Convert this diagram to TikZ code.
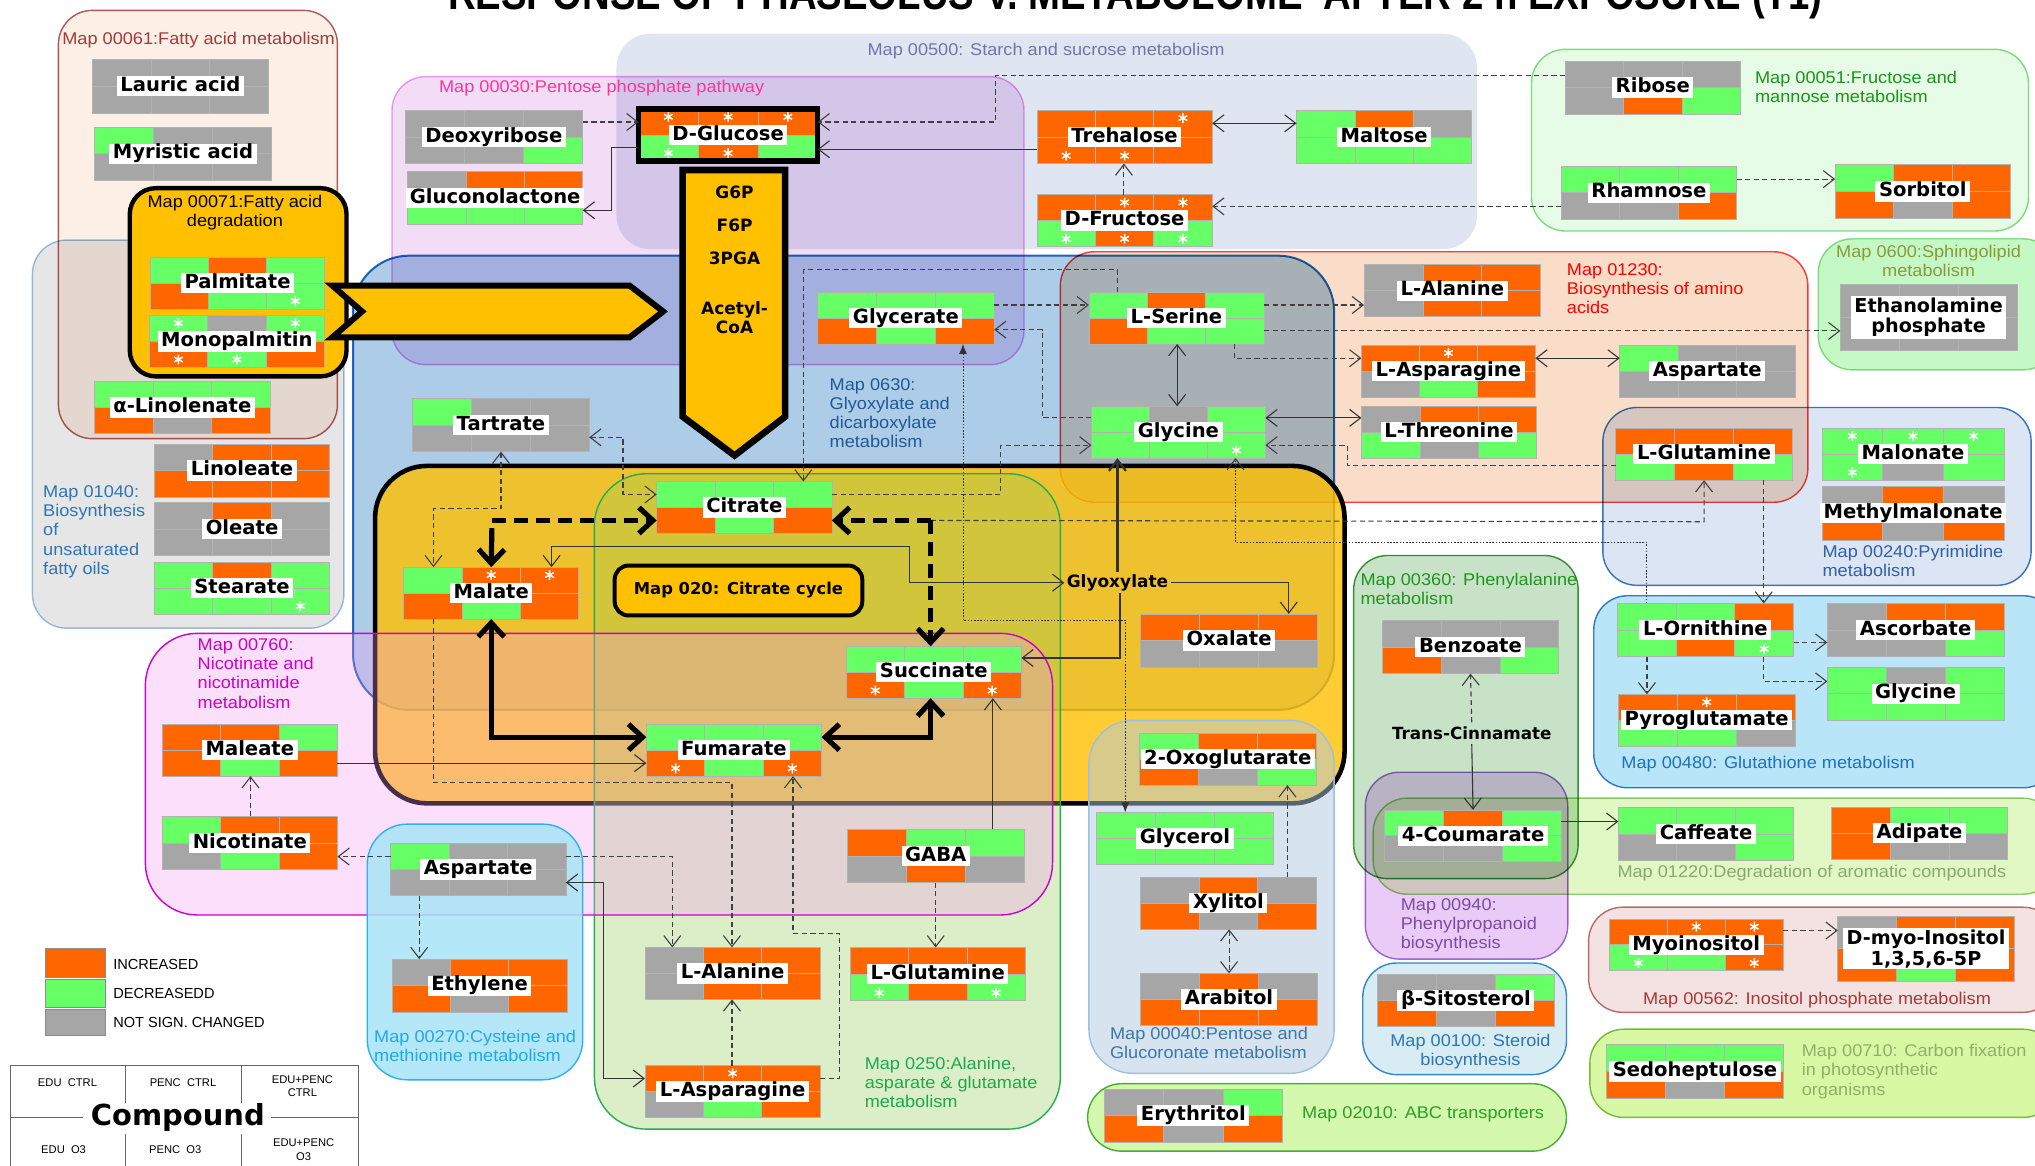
\documentclass[tikz,border=0pt]{standalone}
\usepackage{fontspec}
\setmainfont{Liberation Sans}
\newfontfamily\dvs{DejaVu Sans}
\usepackage{graphicx}
\usetikzlibrary{arrows.meta,calc}

% cell colours (upper case: plain, lower case: significant, drawn with an asterisk)
\definecolor{kO}{HTML}{FF6600}
\definecolor{kG}{HTML}{66FF66}
\definecolor{kA}{HTML}{A6A6A6}
\colorlet{ko}{kO}\colorlet{kg}{kG}\colorlet{ka}{kA}
\definecolor{gold}{HTML}{FFC000}

% pathway areas
\definecolor{fA}{HTML}{FCEFE6}\definecolor{dA}{HTML}{B55A5A}\definecolor{tA}{HTML}{A33A3A}
\definecolor{fB}{HTML}{E6E6E6}\definecolor{dB}{HTML}{9DC3E6}\definecolor{tB}{HTML}{2E75B6}
\definecolor{fC}{HTML}{DFE6F2}\definecolor{tC}{HTML}{7474A8}
\definecolor{fD}{HTML}{F2DCF6}\definecolor{dD}{HTML}{F0A0F0}\definecolor{tD}{HTML}{FF3399}
\definecolor{fE}{HTML}{DCE5F4}\definecolor{dE}{HTML}{3A7AC0}\definecolor{tE}{HTML}{3060A8}
\definecolor{fF}{HTML}{F9DDC8}\definecolor{dF}{HTML}{FF4040}\definecolor{tF}{HTML}{FF0000}
\definecolor{fG}{HTML}{ACCCE8}\definecolor{dG}{HTML}{1F6FC0}\definecolor{tG}{HTML}{1F5A96}
\definecolor{fH}{HTML}{E6FCE6}\definecolor{dH}{HTML}{80E080}\definecolor{tH}{HTML}{1A941A}
\definecolor{fI}{HTML}{C4F8C4}\definecolor{dI}{HTML}{8FE08F}\definecolor{tI}{HTML}{8A9A3A}
\definecolor{fJ}{HTML}{B8E6F8}\definecolor{dJ}{HTML}{3A80C8}\definecolor{tJ}{HTML}{1F6FC0}
\definecolor{fK}{HTML}{C8E2C8}\definecolor{dK}{HTML}{3A9A3A}\definecolor{tK}{HTML}{1E961E}
\definecolor{fL}{HTML}{EACBF8}\definecolor{dL}{HTML}{A070D0}\definecolor{tL}{HTML}{7A4CA0}
\definecolor{fM}{HTML}{E2F8C4}\definecolor{dM}{HTML}{90D070}\definecolor{tM}{HTML}{88A870}
\definecolor{fN}{HTML}{D8ECF4}\definecolor{dN}{HTML}{3C8CD0}\definecolor{tN}{HTML}{2E75B6}
\definecolor{fP}{HTML}{F4E2E2}\definecolor{dP}{HTML}{C07070}\definecolor{tP}{HTML}{A83838}
\definecolor{fQ}{HTML}{D8F8A4}\definecolor{dQ}{HTML}{80C040}\definecolor{tQ}{HTML}{90B068}
\definecolor{fR}{HTML}{D4F8AC}\definecolor{dR}{HTML}{50B040}\definecolor{tR}{HTML}{28A028}
\definecolor{fS}{HTML}{95CE58}\definecolor{dS}{HTML}{20B050}\definecolor{tS}{HTML}{1EA84E}
\definecolor{fT}{HTML}{F598F5}\definecolor{dT}{HTML}{CC00CC}\definecolor{tT}{HTML}{CC00CC}
\definecolor{fU}{HTML}{B1C9E1}\definecolor{dU}{HTML}{9CC0E0}\definecolor{tU}{HTML}{3A78A8}
\definecolor{fV}{HTML}{A8E4F8}\definecolor{dV}{HTML}{30B0F0}\definecolor{tV}{HTML}{20A8E8}

\tikzset{
  reg/.style={blend mode=multiply, line width=0.7pt, rounded corners=17pt},
  cellln/.style={draw=black!30, line width=0.35pt},
  lbl/.style={fill=white, inner xsep=1.8pt, inner ysep=0.5pt, text height=7.2pt, text depth=2pt,
              font=\dvs\bfseries\fontsize{9.8}{10}\selectfont},
  lbl2/.style={fill=white, inner xsep=1.8pt, inner ysep=0.8pt, align=center,
              font=\dvs\bfseries\fontsize{9.6}{10.4}\selectfont},
  mlab/.style={inner sep=0pt, font=\fontsize{8.5}{9.6}\selectfont},
  arrtxt/.style={inner sep=0pt, align=center, font=\dvs\bfseries\fontsize{8.5}{9.6}\selectfont},
  dsh/.style={draw=black!75, line width=0.55pt, dash pattern=on 2.6pt off 1.7pt},
  sol/.style={draw=black!80, line width=0.55pt},
  dotl/.style={draw=black!80, line width=0.5pt, dash pattern=on 0.8pt off 0.8pt},
  fw/.style={-{Straight Barb[length=5.5pt,width=8.5pt]}},
  bw/.style={{Straight Barb[length=5.5pt,width=8.5pt]}-{Straight Barb[length=5.5pt,width=8.5pt]}},
  thk/.style={draw=black, line width=2.6pt},
  tdash/.style={dash pattern=on 7pt off 4pt},
  tfw/.style={-{Straight Barb[length=7pt,width=13pt]}},
  tbw/.style={{Straight Barb[length=7pt,width=13pt]}-{Straight Barb[length=7pt,width=13pt]}},
}

% white asterisk
\newcommand\astk[2]{\draw[white,line width=0.75pt] (#1,#2)+(0,-3.8)--+(0,3.8) (#1,#2)+(-3.3,-1.9)--+(3.3,1.9) (#1,#2)+(-3.3,1.9)--+(3.3,-1.9);}

% compound box: [label style]{name}{left}{top}{width}{height}{six cells}{label}
\newcommand\cpd[8][lbl]{%
  \node[inner sep=0pt,outer sep=0pt,minimum width=#5*0.65pt,minimum height=#6*0.65pt,anchor=north west] (#2) at (#3,#4) {};
  \foreach \cc [count=\ii from 0] in {#7}{%
    \pgfmathtruncatemacro\cl{mod(\ii,3)}%
    \pgfmathtruncatemacro\rw{\ii/3}%
    \pgfmathsetmacro\xa{#3+\cl*#5/3}%
    \pgfmathsetmacro\ya{#4+\rw*#6/2}%
    \fill[k\cc] (\xa,\ya) rectangle ++(#5/3,#6/2);
    \ifnum\expandafter`\cc>96\relax
      \pgfmathsetmacro\xs{\xa+#5/6}%
      \pgfmathsetmacro\ys{\ya+6+\rw*(#6/2-12)}%
      \astk{\xs}{\ys}%
    \fi
  }%
  \draw[cellln] (#2.north west) rectangle (#2.south east)
    ($(#2.north west)+(#5/3,0)$) -- ($(#2.south west)+(#5/3,0)$)
    ($(#2.north west)+(2*#5/3,0)$) -- ($(#2.south west)+(2*#5/3,0)$)
    (#2.west) -- (#2.east);
  \node[#1] at (#2) {#8};
}

\newcommand\ml[2]{\scalebox{1.07}[1]{\begin{tabular}{@{}#1@{}}#2\end{tabular}}}

\begin{document}
\begin{tikzpicture}[x=0.65pt,y=-0.65pt]
\fill[white] (0,0) rectangle (1568,898);
\useasboundingbox (0,0) rectangle (1568,898);
\clip (0,0) rectangle (1568,898);

% ---------- pathway areas ----------
\filldraw[reg, fill=fA, draw=dA] (45,8) rectangle (260,338);
\filldraw[reg, fill=fB, draw=dB] (25,185) rectangle (265,484);
\fill[reg, fill=fC] (475,26) rectangle (1138,192);
\filldraw[reg, fill=fD, draw=dD] (302,59) rectangle (789,281);
\filldraw[reg, fill=fE, draw=dE] (1235,314) rectangle (1565,451);
\filldraw[reg, fill=fF, draw=dF] (817,194) rectangle (1393,387);
\filldraw[reg, fill=fG, draw=dG, line width=1pt, rounded corners=28pt] (272,197) rectangle (1028,547);
\filldraw[reg, fill=fH, draw=dH] (1180,38) rectangle (1563,178);
\filldraw[reg, fill=fI, draw=dI] (1401,184) rectangle (1585,285);
\filldraw[reg, fill=fJ, draw=dJ] (1228,459) rectangle (1585,607);
\filldraw[reg, fill=fK, draw=dK] (1043,428) rectangle (1216,677);
\filldraw[reg, fill=fL, draw=dL] (1052,595) rectangle (1208,739);
\filldraw[reg, fill=fM, draw=dM] (1058,615) rectangle (1585,689);
\filldraw[reg, fill=fN, draw=dN] (1050,742) rectangle (1207,828);
\filldraw[reg, fill=fP, draw=dP] (1224,699) rectangle (1585,780);
\filldraw[reg, fill=fQ, draw=dQ] (1225,793) rectangle (1585,861);
\filldraw[reg, fill=fR, draw=dR] (838,835) rectangle (1207,887);

% citrate cycle area
\filldraw[fill=gold, fill opacity=0.8, draw=black, line width=2.3pt, rounded corners=26pt] (289,359) rectangle (1036,619);
\filldraw[fill=fS, fill opacity=0.33, draw=dS, line width=0.7pt, rounded corners=26pt] (458,365) rectangle (817,870);
\filldraw[fill=fT, fill opacity=0.3, draw=dT, line width=0.7pt, rounded corners=26pt] (112,488) rectangle (811,705);
\filldraw[fill=fU, fill opacity=0.5, draw=dU, line width=0.7pt, rounded corners=22pt] (839,555) rectangle (1028,827);
\filldraw[fill=fV, fill opacity=0.85, draw=dV, line width=0.7pt, rounded corners=20pt] (283,635) rectangle (449,832);

% fatty acid degradation box
\filldraw[fill=gold, draw=black, line width=2.2pt, rounded corners=13pt] (100,145) rectangle (267,290);

% ---------- pathway labels ----------
\node[mlab, text=tA] at (153,31) {\ml{c}{Map 00061:Fatty acid metabolism}};
\node[mlab, text=black] at (181,164.5) {\ml{c}{Map 00071:Fatty acid\\degradation}};
\node[mlab, text=tB, anchor=west] at (33,410) {\ml{l}{Map 01040:\\Biosynthesis\\of\\unsaturated\\fatty oils}};
\node[mlab, text=tD, anchor=west] at (338,68) {\ml{l}{Map 00030:Pentose phosphate pathway}};
\node[mlab, text=tC] at (806,40) {\ml{c}{Map 00500: Starch and sucrose metabolism}};
\node[mlab, text=tH, anchor=west] at (1352,68.5) {\ml{l}{Map 00051:Fructose and\\mannose metabolism}};
\node[mlab, text=tI] at (1486,202.5) {\ml{c}{Map 0600:Sphingolipid\\metabolism}};
\node[mlab, text=tF, anchor=west] at (1207,224) {\ml{l}{Map 01230:\\Biosynthesis of amino\\acids}};
\node[mlab, text=tG, anchor=west] at (639,320) {\ml{l}{Map 0630:\\Glyoxylate and\\dicarboxylate\\metabolism}};
\node[mlab, text=tE, anchor=west] at (1404,434) {\ml{l}{Map 00240:Pyrimidine\\metabolism}};
\node[mlab, text=tK, anchor=west] at (1048,455.5) {\ml{l}{Map 00360: Phenylalanine\\metabolism}};
\node[mlab, text=tJ, anchor=west] at (1249,589) {\ml{l}{Map 00480: Glutathione metabolism}};
\node[mlab, text=tL, anchor=west] at (1079,713) {\ml{l}{Map 00940:\\Phenylpropanoid\\biosynthesis}};
\node[mlab, text=tM, anchor=west] at (1246,673) {\ml{l}{Map 01220:Degradation of aromatic compounds}};
\node[mlab, text=tP] at (1400,771) {\ml{c}{Map 00562: Inositol phosphate metabolism}};
\node[mlab, text=tN] at (1133,810.5) {\ml{c}{Map 00100: Steroid\\biosynthesis}};
\node[mlab, text=tQ, anchor=west] at (1388,826) {\ml{l}{Map 00710: Carbon fixation\\in photosynthetic\\organisms}};
\node[mlab, text=tR, anchor=west] at (1003,859) {\ml{l}{Map 02010: ABC transporters}};
\node[mlab, text=tU, anchor=west] at (855,805.5) {\ml{l}{Map 00040:Pentose and\\Glucoronate metabolism}};
\node[mlab, text=tS, anchor=west] at (666,836) {\ml{l}{Map 0250:Alanine,\\asparate \& glutamate\\metabolism}};
\node[mlab, text=tT, anchor=west] at (152,520.5) {\ml{l}{Map 00760:\\Nicotinate and\\nicotinamide\\metabolism}};
\node[mlab, text=tV, anchor=west] at (288,807.5) {\ml{l}{Map 00270:Cysteine and\\methionine metabolism}};

% ---------- compounds ----------
\cpd{lauric}{71}{46}{136}{41}{A,A,A,A,A,A}{Lauric acid}
\cpd{myristic}{73}{98}{136}{41}{G,A,A,A,A,A}{Myristic acid}
\cpd{palmitate}{116}{198}{134}{40}{G,O,G,O,G,g}{Palmitate}
\cpd{monopalm}{115}{243}{135}{40}{g,A,g,o,g,O}{Monopalmitin}
\cpd{alinolen}{73}{294}{135}{40}{G,G,G,O,A,O}{α-Linolenate}
\cpd{linoleate}{119}{342}{135}{41}{A,O,O,O,O,O}{Linoleate}
\cpd{oleate}{119}{387}{135}{41}{A,O,A,A,A,A}{Oleate}
\cpd{stearate}{119}{433}{135}{40}{G,O,G,G,G,g}{Stearate}
\cpd{deoxy}{312}{85}{137}{41}{A,A,A,A,A,G}{Deoxyribose}
\cpd{glucono}{314}{132}{135}{41}{A,O,O,G,G,G}{Gluconolactone}
\cpd{glucose}{492}{84}{138}{40}{o,o,o,g,o,G}{D-Glucose}
\draw[line width=2.6pt] (glucose.north west) rectangle (glucose.south east);
\cpd{trehal}{799}{85}{135}{41}{O,O,o,o,o,O}{Trehalose}
\cpd{maltose}{999}{85}{135}{41}{G,O,A,G,G,G}{Maltose}
\cpd{fructose}{799}{150}{135}{40}{O,o,o,g,o,g}{D-Fructose}
\cpd{ribose}{1206}{47}{135}{41}{A,A,A,A,O,G}{Ribose}
\cpd{rhamnose}{1203}{128}{135}{41}{G,G,G,A,A,O}{Rhamnose}
\cpd{sorbitol}{1414}{127}{135}{41}{G,O,O,O,A,O}{Sorbitol}
\cpd{alaA}{1051}{204}{136}{40}{A,O,O,A,O,O}{L-Alanine}
\cpd{asnA}{1049}{266}{134}{40}{O,o,O,A,G,O}{L-Asparagine}
\cpd{aspA}{1248}{266}{135}{40}{G,A,A,A,A,A}{Aspartate}
\cpd[lbl2]{ethanol}{1418}{219}{136}{51}{A,A,A,A,A,A}{Ethanolamine\\phosphate}
\cpd{threo}{1049}{313}{135}{40}{A,O,O,G,A,G}{L-Threonine}
\cpd{glnA}{1245}{330}{136}{40}{O,O,O,G,O,G}{L-Glutamine}
\cpd{malonate}{1404}{330}{140}{40}{g,g,g,g,A,G}{Malonate}
\cpd{methylmal}{1404}{375}{140}{41}{A,O,A,O,A,O}{Methylmalonate}
\cpd{ornith}{1246}{465}{136}{41}{G,G,O,G,O,g}{L-Ornithine}
\cpd{ascorb}{1408}{465}{136}{41}{A,O,O,A,A,G}{Ascorbate}
\cpd{glyB}{1408}{514}{136}{41}{G,A,G,G,G,G}{Glycine}
\cpd{pyroglu}{1247}{535}{136}{40}{O,o,O,G,G,A}{Pyroglutamate}
\cpd{benzo}{1065}{478}{136}{41}{A,A,A,O,A,G}{Benzoate}
\cpd{coumar}{1067}{624}{136}{40}{G,O,G,A,A,G}{4-Coumarate}
\cpd{caffe}{1247}{622}{135}{41}{G,G,G,A,A,G}{Caffeate}
\cpd{adip}{1411}{622}{136}{40}{O,G,G,O,A,A}{Adipate}
\cpd{sitost}{1061}{751}{137}{40}{A,A,G,O,A,O}{β-Sitosterol}
\cpd{myoino}{1240}{708}{134}{40}{O,o,o,g,G,o}{Myoinositol}
\cpd[lbl2]{dmyo}{1416}{706}{136}{50}{A,O,O,O,G,O}{D-myo-Inositol\\1,3,5,6-5P}
\cpd{sedo}{1238}{805}{136}{41}{G,G,G,O,A,O}{Sedoheptulose}
\cpd{erythr}{851}{839}{137}{41}{A,A,G,O,A,O}{Erythritol}
\cpd{xylit}{879}{676}{135}{40}{A,O,A,O,A,O}{Xylitol}
\cpd{arabit}{879}{750}{136}{40}{A,O,A,O,O,O}{Arabitol}
\cpd{glycerol}{845}{626}{136}{40}{G,G,G,G,G,G}{Glycerol}
\cpd{oxoglu}{878}{565}{136}{40}{G,O,O,O,A,G}{2-Oxoglutarate}
\cpd{oxal}{879}{473}{136}{41}{O,O,O,A,A,A}{Oxalate}
\cpd{serine}{839}{225}{135}{40}{G,O,G,O,G,G}{L-Serine}
\cpd{glyA}{841}{313}{134}{40}{G,A,G,G,G,g}{Glycine}
\cpd{glycerate}{630}{225}{136}{40}{G,G,G,O,G,O}{Glycerate}
\cpd{tartrate}{318}{307}{136}{41}{G,A,A,A,A,A}{Tartrate}
\cpd{citrate}{506}{371}{135}{40}{G,G,G,O,G,O}{Citrate}
\cpd{malate}{311}{437}{135}{40}{G,o,o,O,G,O}{Malate}
\cpd{succin}{652}{498}{135}{40}{G,G,G,o,G,o}{Succinate}
\cpd{fumar}{498}{558}{135}{40}{G,G,G,o,G,o}{Fumarate}
\cpd{gaba}{653}{639}{136}{41}{O,G,G,A,O,A}{GABA}
\cpd{maleate}{125}{558}{135}{40}{O,O,G,O,G,O}{Maleate}
\cpd{nicotin}{125}{629}{135}{41}{G,O,O,A,G,O}{Nicotinate}
\cpd{aspC}{301}{650}{135}{40}{G,A,A,A,A,A}{Aspartate}
\cpd{ethylene}{302}{739}{135}{41}{A,O,O,O,A,O}{Ethylene}
\cpd{alaC}{497}{730}{135}{40}{A,O,O,A,O,O}{L-Alanine}
\cpd{asnC}{497}{821}{135}{40}{O,o,O,A,G,O}{L-Asparagine}
\cpd{glnC}{655}{730}{135}{41}{O,O,O,g,O,g}{L-Glutamine}

\node[inner sep=1pt, font=\dvs\bfseries\fontsize{8.5}{10}\selectfont] (glyox) at (861,449) {Glyoxylate};
\node[inner sep=2pt, font=\dvs\bfseries\fontsize{8.4}{10}\selectfont] (transcin) at (1134,565) {Trans-Cinnamate};

% ---------- thin connectors ----------
\draw[dsh,fw] ($(deoxy.north east)+(0,9)$) -- ($(glucose.north west)+(0,10)$);
\draw[sol,fw] ($(glucose.north west)+(0,30)$) -- (471,114) |- ($(glucono.north east)+(0,30)$);
\draw[dsh,fw] ($(ribose.north west)+(0,11)$) -- (767,58) -- (767,94) -- ($(glucose.north east)+(0,10)$);
\draw[sol,fw] ($(trehal.north west)+(0,30)$) -- ($(glucose.north east)+(0,31)$);
\draw[sol,bw] ($(trehal.north east)+(0,10)$) -- ($(maltose.north west)+(0,10)$);
\draw[dsh,fw] ($(fructose.north west)+(67,0)$) -- ($(trehal.south west)+(67,0)$);
\draw[dsh,fw] ($(rhamnose.north west)+(0,31)$) -- ($(fructose.north east)+(0,9)$);
\draw[dsh,fw] ($(rhamnose.north east)+(0,10)$) -- ($(sorbitol.north west)+(0,11)$);
\draw[dsh,fw] ($(glycerate.north east)+(0,10)$) -- ($(serine.north west)+(0,10)$);
\draw[dsh,fw] ($(glyA.north west)+(0,9)$) -- (803,322) -- (803,254) -- ($(glycerate.north east)+(0,29)$);
\draw[dsh,fw] ($(serine.north west)+(22,0)$) -- (861,208) -- (619,208) -- ($(citrate.north west)+(113,0)$);
\draw[dsh,fw] ($(serine.north east)+(0,10)$) -- ($(alaA.north west)+(0,31)$);
\draw[dsh,fw] ($(serine.north east)+(0,30)$) -- ($(ethanol.north west)+(0,36)$);
\draw[dsh,fw] ($(serine.south west)+(112,0)$) -- (951,276) -- ($(asnA.north west)+(0,10)$);
\draw[sol,bw] ($(serine.south west)+(68,0)$) -- ($(glyA.north west)+(66,0)$);
\draw[sol,bw] ($(glyA.north east)+(0,9)$) -- ($(threo.north west)+(0,9)$);
\draw[sol,bw] ($(asnA.north east)+(0,10)$) -- ($(aspA.north west)+(0,10)$);
\draw[dsh,fw] ($(glnA.north west)+(0,29)$) -- (1038,359) -- (1038,343) -- ($(glyA.north east)+(0,30)$);
\draw[dsh,fw] ($(citrate.north east)+(0,10)$) -- (771,381) -- (771,343) -- ($(glyA.north west)+(0,30)$);
\draw[dsh,bw] ($(tartrate.north east)+(0,30)$) -- (480,337) -- (480,381) -- ($(citrate.north west)+(0,10)$);
\draw[dsh,bw] ($(tartrate.south west)+(68,0)$) -- (386,392) -- (334,392) -- ($(malate.north west)+(23,0)$);
\draw[sol,fw] ($(maleate.north east)+(0,30)$) -- ($(fumar.north west)+(0,30)$);
\draw[dsh,fw] ($(nicotin.north west)+(68,0)$) -- ($(maleate.south west)+(68,0)$);
\draw[dsh,fw] ($(aspC.north west)+(0,10)$) -- ($(nicotin.north east)+(0,31)$);
\draw[dsh,fw] ($(aspC.south west)+(22,0)$) -- ($(ethylene.north west)+(21,0)$);
\draw[dsh,fw] ($(aspC.north east)+(0,10)$) -- (518,660) -- ($(alaC.north west)+(21,0)$);
\draw[sol,bw] ($(aspC.north east)+(0,30)$) -- (465,680) -- (465,831) -- ($(asnC.north west)+(0,10)$);
\draw[dsh,fw] ($(malate.south west)+(23,0)$) -- (334,603) -- (564,603) -- ($(alaC.north west)+(67,0)$);
\draw[dsh,fw] ($(asnC.north west)+(67,0)$) -- ($(alaC.south west)+(67,0)$);
\draw[dsh,fw] ($(asnC.north east)+(0,10)$) -- (647,831) -- (647,719) -- (611,719) -- ($(fumar.south west)+(113,0)$);
\draw[sol,fw] ($(gaba.north west)+(112,0)$) -- ($(succin.south west)+(113,0)$);
\draw[dsh,fw] ($(gaba.south west)+(68,0)$) -- ($(glnC.north west)+(66,0)$);
\draw[sol,bw] ($(malate.north west)+(114,0)$) -- (425,421) -- (701,421) -- (701,449) -- (glyox.west);
\draw[sol,fw,line width=1.1pt] (glyox.north) -- ($(glyA.south west)+(20,0)$);
\draw[sol,fw] (glyox.east) -- (993,449) -- ($(oxal.north west)+(114,0)$);
\draw[sol,fw] ($(glyox.south)+(2,0)$) -- (863,507) -- ($(succin.north east)+(0,9)$);
\draw[dotl,{Latex[length=5pt,width=4pt]}-{Latex[length=5pt,width=4pt]}] ($(glycerate.south west)+(112,0)$) -- (742,478) -- (867,478) -- ($(glycerol.north west)+(22,0)$);
\draw[dotl,fw] ($(ornith.north west)+(23,0)$) -- (1269,418) -- (952,418) -- ($(glyA.south west)+(111,0)$);
\coordinate (tkA) at (379,401);
\coordinate (tkA2) at (379,407);
\coordinate (tkB) at (717,401);
\draw[dsh,fw] (tkB) -- (1313,402) -- ($(glnA.south west)+(68,0)$);
\draw[dsh,fw] ($(glnA.south west)+(114,0)$) -- ($(ornith.north west)+(113,0)$);
\draw[dsh,fw] ($(ornith.north east)+(0,30)$) -- ($(ascorb.north west)+(0,30)$);
\draw[dsh,fw] ($(ornith.south west)+(113,0)$) -- (1359,525) -- ($(glyB.north west)+(0,11)$);
\draw[dsh,fw] ($(ornith.south west)+(23,0)$) -- ($(pyroglu.north west)+(22,0)$);
\draw[dsh,fw] (transcin.north) -- (benzo.south);
\draw[sol,fw] (transcin.south) -- (coumar.north);
\draw[sol,fw] ($(coumar.north east)+(0,9)$) -- ($(caffe.north west)+(0,11)$);
\draw[dsh,fw] ($(myoino.north east)+(0,9)$) -- ($(dmyo.north west)+(0,11)$);
\draw[dsh,bw] ($(xylit.south west)+(68,0)$) -- ($(arabit.north west)+(68,0)$);
\draw[dsh,fw] ($(xylit.north west)+(113,0)$) -- ($(oxoglu.south west)+(114,0)$);

% ---------- citrate cycle arrows ----------
\draw[thk,tfw] (tkA2) -- (malate.north);
\draw[thk,tdash,tfw] (tkA) -- ($(citrate.north west)+(0,30)$);
\draw[thk,tdash,tfw] (tkB) -- ($(citrate.north east)+(0,30)$);
\draw[thk,tdash,tfw] (tkB) -- ($(succin.north west)+(65,0)$);
\draw[thk,tbw] ($(succin.south west)+(65,0)$) -- (717,568) -- ($(fumar.north east)+(0,10)$);
\draw[thk,tbw] (malate.south) -- (378.5,568) -- ($(fumar.north west)+(0,10)$);

\node[draw=black, line width=2pt, fill=gold, rounded corners=7pt, minimum width=124pt, minimum height=25pt,
      font=\dvs\bfseries\fontsize{8.2}{9}\selectfont] (cycbox) at (569,455) {Map 020: Citrate cycle};

% ---------- glycolysis arrows ----------
\filldraw[fill=gold, draw=black, line width=3pt, line join=miter] (256,220) -- (485,220) -- (511,240) -- (485,260) -- (256,260) -- (279,240) -- cycle;
\filldraw[fill=gold, draw=black, line width=3.3pt, line join=miter] (526,131) -- (605,131) -- (605,321) -- (566,351) -- (526,321) -- cycle;
\node[arrtxt] (g6p) at (566,148) {G6P};
\node[arrtxt] (f6p) at (566,174) {F6P};
\node[arrtxt] (pga) at (566,199) {3PGA};
\node[arrtxt] (acoa) at (566,245) {Acetyl-\\CoA};

% ---------- legend ----------
\tikzset{legtxt/.style={anchor=west, inner sep=0pt, font=\fontsize{7.3}{8}\selectfont}}
\filldraw[fill=kO, draw=black!45, line width=0.4pt] (35,731) rectangle (81,753);
\filldraw[fill=kG, draw=black!45, line width=0.4pt] (35,755) rectangle (81,776);
\filldraw[fill=kA, draw=black!45, line width=0.4pt] (35,778) rectangle (81,798);
\node[legtxt] (lgO) at (87,743) {INCREASED};
\node[legtxt] (lgG) at (87,765.5) {DECREASEDD};
\node[legtxt] (lgA) at (87,788) {NOT SIGN. CHANGED};

\tikzset{tabtxt/.style={inner sep=0pt, align=center, font=\fontsize{5.6}{6.8}\selectfont}}
\draw[black!60, line width=0.5pt] (276,905) -- (276,821) -- (8,821) -- (8,905)
  (97,821) -- (97,850) (186,821) -- (186,850) (97,874) -- (97,905) (186,874) -- (186,905)
  (8,861) -- (64,861) (209,861) -- (276,861);
\node[tabtxt] (t1) at (52,834) {EDU\ \ CTRL};
\node[tabtxt] (t2) at (141,834) {PENC\ \ CTRL};
\node[tabtxt] (t3) at (233,837) {EDU+PENC\\CTRL};
\node[tabtxt] (t4) at (49,886) {EDU\ \ O3};
\node[tabtxt] (t5) at (135,886) {PENC\ \ O3};
\node[tabtxt] (t6) at (234,886) {EDU+PENC\\O3};
\node[inner sep=0pt, font=\dvs\bfseries\fontsize{14.5}{16}\selectfont] (cmpd) at (137,861) {Compound};

% ---------- title ----------
\node[anchor=base west, inner sep=0pt, font=\bfseries\fontsize{23}{25}\selectfont] (title) at (345,7)
  {\scalebox{0.835}[1]{RESPONSE OF PHASEOLUS V. METABOLOME\ \ AFTER 2 h EXPOSURE (T1)}};
\end{tikzpicture}
\end{document}
